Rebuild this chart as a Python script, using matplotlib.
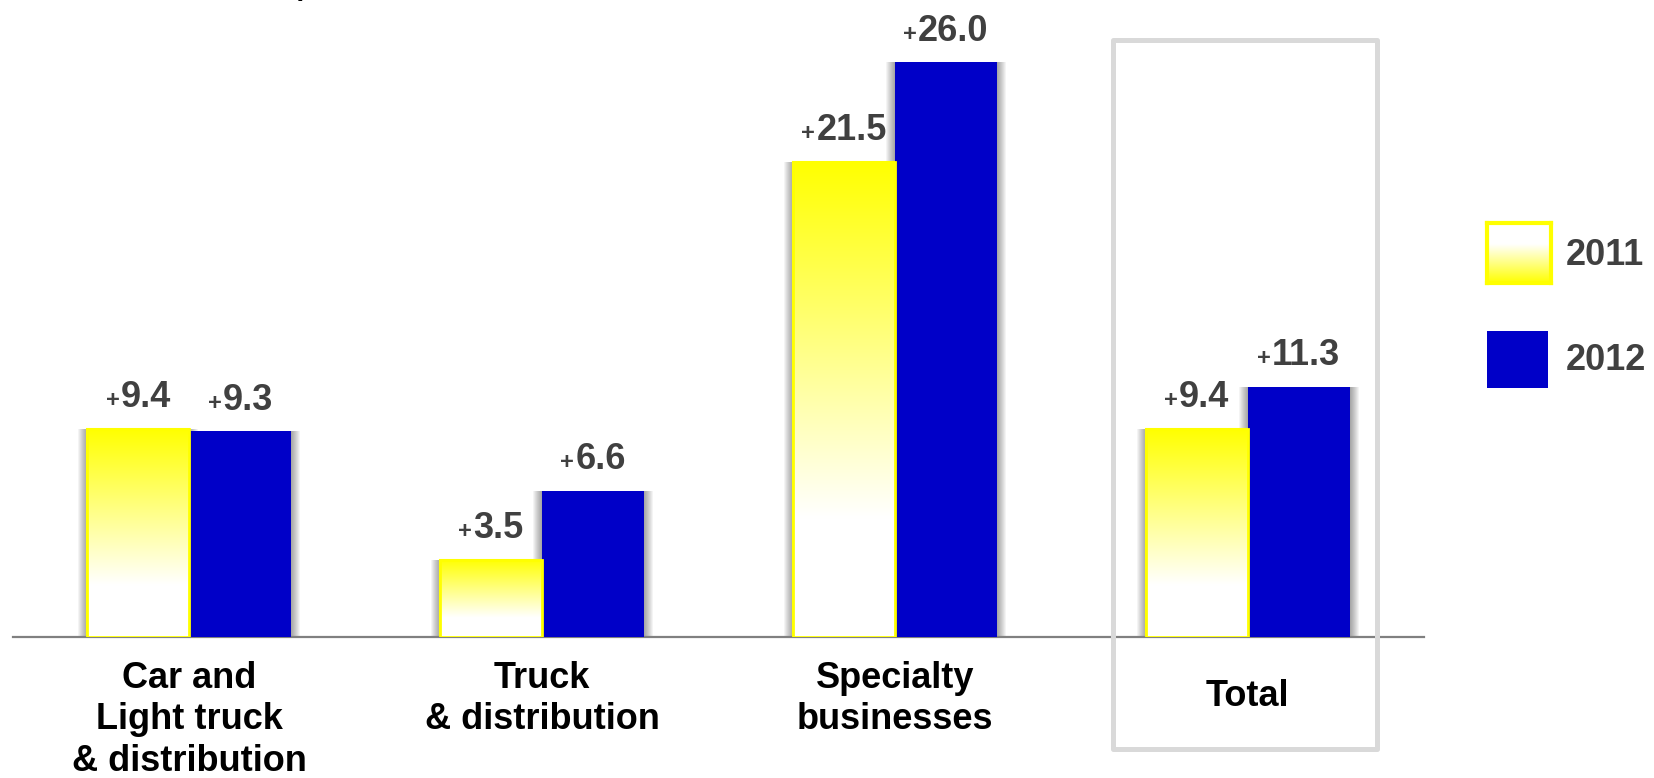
import numpy as np
import matplotlib
matplotlib.use("Agg")
import matplotlib.pyplot as plt
from matplotlib.patches import Rectangle
from matplotlib.offsetbox import TextArea, HPacker, AnnotationBbox

plt.rcParams['font.family'] = ['Liberation Sans', 'DejaVu Sans']

categories = ['Car and\nLight truck\n& distribution', 'Truck\n& distribution',
              'Specialty\nbusinesses', 'Total']
values_2011 = [9.4, 3.5, 21.5, 9.4]
values_2012 = [9.3, 6.6, 26.0, 11.3]
series_names = ['2011', '2012']

yellow = '#FFFF00'
blue = '#0000C8'
txt = '#404040'

fig = plt.figure(figsize=(16.54, 7.78), dpi=100)
ax = fig.add_axes([13 / 1654, 1 - 637 / 778, 1411 / 1654, 637 / 778])

x = np.arange(len(categories))
w = 0.289
px = 1 / 353  # one pixel in data units along x

# soft drop shadows behind the bars
for xs, vals in [(x - w / 2, values_2011), (x + w / 2, values_2012)]:
    for d in [1, 2, 3, 4, 5, 6, 7, 8, 9]:
        ax.bar(xs, vals, width=w + 2 * d * px, color='black', alpha=0.045, lw=0, zorder=1)

# 2011 bars: yellow to white gradient with yellow edge
bars11 = ax.bar(x - w / 2, values_2011, w, facecolor='white', edgecolor=yellow, lw=1.5, zorder=2)
t = np.linspace(0, 1, 256)
grad = np.ones((256, 1, 3))
grad[:, 0, 2] = np.clip(t / 0.75, 0, 1)
for b in bars11:
    x0, h, bw = b.get_x(), b.get_height(), b.get_width()
    im = ax.imshow(grad, extent=[x0, x0 + bw, 0, h], aspect='auto', zorder=3)
    im.set_clip_path(b)
for b in bars11:
    ax.add_patch(Rectangle((b.get_x(), 0), b.get_width(), b.get_height(),
                           fill=False, edgecolor=yellow, lw=2, zorder=4))

bars12 = ax.bar(x + w / 2, values_2012, w, color=blue, lw=0, zorder=3)

ax.set_xlim(-0.5, 3.5)
ax.set_ylim(0, 637 / 22.1)


def value_label(xc, h):
    plus = TextArea('+', textprops=dict(fontsize=17, fontweight='bold', color=txt))
    num = TextArea(f'{h:.1f}', textprops=dict(fontsize=26, fontweight='bold', color=txt))
    box = HPacker(children=[plus, num], align='baseline', pad=0, sep=1)
    ab = AnnotationBbox(box, (xc, h), xybox=(0, 10), xycoords='data',
                        boxcoords='offset points', box_alignment=(0.5, 0),
                        frameon=False, annotation_clip=False, zorder=5)
    ax.add_artist(ab)


for xi, v in zip(x - w / 2, values_2011):
    value_label(xi, v)
for xi, v in zip(x + w / 2, values_2012):
    value_label(xi, v)

# category labels
for i, cat in enumerate(categories):
    off = -30 if cat == 'Total' else -17
    ax.annotate(cat, (x[i], 0), xycoords=('data', 'axes fraction'),
                xytext=(0, off), textcoords='offset points', ha='center', va='top',
                fontsize=26, fontweight='bold', color='black', linespacing=1.25,
                annotation_clip=False)

for s in ['left', 'right', 'top']:
    ax.spines[s].set_visible(False)
ax.spines['bottom'].set_color('#808080')
ax.spines['bottom'].set_linewidth(1.6)
ax.set_xticks([])
ax.set_yticks([])

# highlight box around Total
fig.add_artist(Rectangle((1113 / 1654, 1 - 749 / 778), 264 / 1654, 709 / 778,
                         transform=fig.transFigure, fill=False, edgecolor='#D9D9D9',
                         lw=3.6, joinstyle='round'))

# legend
lax = fig.add_axes([1487 / 1654, 1 - 283 / 778, 64 / 1654, 60 / 778])
lgrad = np.ones((256, 1, 3))
lgrad[:, 0, 2] = np.clip((1 - t) / 0.65, 0, 1)
lax.imshow(lgrad, aspect='auto', extent=[0, 1, 0, 1])
lax.set_xticks([])
lax.set_yticks([])
for s in lax.spines.values():
    s.set_color(yellow)
    s.set_linewidth(3)
fig.add_artist(Rectangle((1487 / 1654, 1 - 388 / 778), 61 / 1654, 57 / 778,
                         transform=fig.transFigure, color=blue, lw=0))
fig.text(1566 / 1654, 1 - 256 / 778, series_names[0], va='center', ha='left',
         fontsize=26, fontweight='bold', color=txt)
fig.text(1566 / 1654, 1 - 360 / 778, series_names[1], va='center', ha='left',
         fontsize=26, fontweight='bold', color=txt)

# remnant of the cut-off title above
fig.text(298 / 1654, 1 + 5 / 778, ')', va='baseline', ha='left', fontsize=20,
         fontweight='bold', color='black')

fig.savefig('out.png', dpi=100)
